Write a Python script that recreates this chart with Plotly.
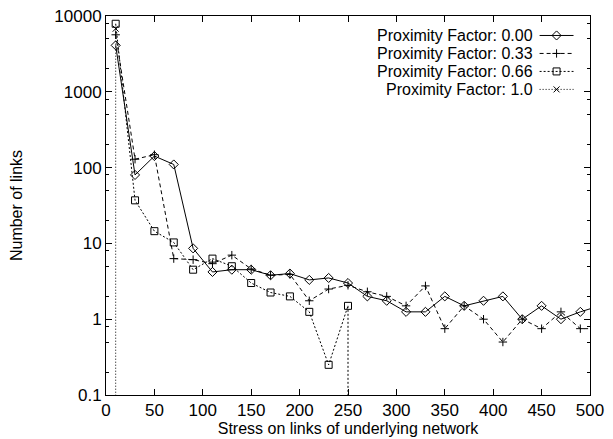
import plotly.graph_objects as go

# ---- data ----
stress = [10, 30, 50, 70, 90, 110, 130, 150, 170, 190, 210, 230, 250,
          270, 290, 310, 330, 350, 370, 390, 410, 430, 450, 470, 490, 510]

pf000 = [4100, 80, 142, 110, 8.6, 4.2, 4.5, 4.5, 3.8, 4.0, 3.3, 3.5, 3.0,
         2.0, 1.75, 1.25, 1.25, 2.0, 1.5, 1.75, 2.0, 1.0, 1.5, 1.0, 1.25, 1.5]
pf033 = [5650, 129, 148, 6.3, 6.1, 5.4, 7.0, 4.6, 3.8, 3.9, 1.75, 2.5, 2.8,
         2.3, 2.0, 1.5, 2.75, 0.75, 1.5, 1.0, 0.5, 1.0, 0.75, 1.25, 0.75, 0.75]
pf066 = [7900, 37, 14.5, 10.3, 4.5, 6.3, 5.0, 3.0, 2.25, 2.0, 1.25, 0.25, 1.5]
pf100 = [6800]

names = ["Proximity Factor: 0.00", "Proximity Factor: 0.33",
         "Proximity Factor: 0.66", "Proximity Factor: 1.0"]

x_ticks = [0, 50, 100, 150, 200, 250, 300, 350, 400, 450, 500]
y_ticks = [0.1, 1, 10, 100, 1000, 10000]
y_tick_text = ["0.1", "1", "10", "100", "1000", "10000"]
y_minor = [m * 10.0 ** e for e in range(-1, 4) for m in (2, 5, 8)]

X_RANGE = [0, 500]
Y_MIN, Y_MAX = 0.1, 10000

FONT = "Liberation Sans, Arial, Helvetica, sans-serif"
FS = 17
FS_TITLE = 16
FS_LEG = 16

styles = [
    dict(dash="solid", symbol="diamond-open", size=7),
    dict(dash="4px,3px", symbol="cross-thin-open", size=6),
    dict(dash="2px,2px", symbol="square-open", size=7),
    dict(dash="1px,2px", symbol="x-thin-open", size=6),
]
series = [pf000, pf033, pf066, pf100]

fig = go.Figure()
for vals, st in zip(series, styles):
    xs = stress[:len(vals)]
    fig.add_trace(go.Scatter(
        x=xs, y=vals, mode="lines+markers", cliponaxis=True,
        line=dict(color="black", width=1, dash=st["dash"]),
        marker=dict(symbol=st["symbol"], size=st["size"], color="black",
                    line=dict(color="black", width=1)),
        showlegend=False))

# series that end in a zero count drop straight down to the axis floor
for vals, st in [(pf066, styles[2]), (pf100, styles[3])]:
    xl = stress[len(vals) - 1]
    fig.add_trace(go.Scatter(
        x=[xl, xl], y=[vals[-1], Y_MIN], mode="lines",
        line=dict(color="black", width=1, dash=st["dash"]),
        showlegend=False))

# page has an 8px body margin: figure coordinates = page coordinates - 8
OFF = 8
W, H = 613 - OFF, 439 - OFF
L, R, T, B = 105.5 - OFF, 590.5 - OFF, 15.5 - OFF, 395 - OFF

# ---- manual legend (text right, sample on the right) on overlay axes in px ----
rows = [35, 53, 71, 89]
for name, st, yy in zip(names, styles, rows):
    yy = yy - OFF
    fig.add_trace(go.Scatter(
        x=[540 - OFF, 574 - OFF], y=[yy, yy], xaxis="x2", yaxis="y2",
        mode="lines", line=dict(color="black", width=1, dash=st["dash"]),
        showlegend=False, hoverinfo="skip"))
    fig.add_trace(go.Scatter(
        x=[557 - OFF], y=[yy], xaxis="x2", yaxis="y2", mode="markers",
        marker=dict(symbol=st["symbol"], size=st["size"], color="black",
                    line=dict(color="black", width=1)),
        showlegend=False, hoverinfo="skip"))
    fig.add_annotation(x=534 - OFF, y=yy, xref="x2", yref="y2", text=name,
                       showarrow=False, xanchor="right", yanchor="middle",
                       borderpad=0,
                       font=dict(family=FONT, size=FS_LEG, color="black"))

fig.update_layout(
    width=W, height=H,
    margin=dict(l=L, r=W - R, t=T, b=H - B, pad=0, autoexpand=False),
    plot_bgcolor="white", paper_bgcolor="white",
    font=dict(family=FONT, size=FS, color="black"),
    showlegend=False,
    xaxis=dict(range=X_RANGE, tickvals=x_ticks, ticks="inside", ticklen=6,
               tickcolor="black", showline=True, linecolor="black",
               linewidth=1, mirror="allticks", showgrid=False, zeroline=False,
               ticklabeloverflow="allow",
               title=dict(text="Stress on links of underlying network",
                          standoff=3, font=dict(size=FS_TITLE)),
               tickfont=dict(size=FS)),
    yaxis=dict(type="log", range=[-1, 4], tickvals=y_ticks,
               ticktext=y_tick_text, ticks="inside", ticklen=6,
               tickcolor="black", showline=True, linecolor="black",
               linewidth=1, mirror="allticks", showgrid=False, zeroline=False,
               ticklabeloverflow="allow",
               minor=dict(tickvals=y_minor, ticks="inside", ticklen=3,
                          tickcolor="black", showgrid=False),
               title=dict(text="Number of links", standoff=32,
                          font=dict(size=FS_TITLE)),
               tickfont=dict(size=FS)),
    xaxis2=dict(overlaying="x", range=[L, R], visible=False, fixedrange=True),
    yaxis2=dict(overlaying="y", range=[B, T], visible=False, fixedrange=True),
)

fig.write_html("out.html")
